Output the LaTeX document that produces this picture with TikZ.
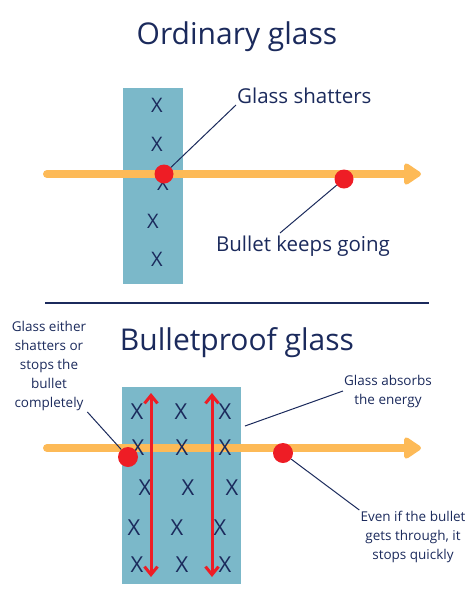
\documentclass[tikz,border=0pt]{standalone}
\usepackage{fontspec}
\setmainfont{Open Sans}
\usetikzlibrary{positioning,arrows.meta,calc}
\definecolor{navy}{HTML}{1B2A5C}
\definecolor{glassblue}{HTML}{7BB8C9}
\definecolor{bulletred}{HTML}{EE1D25}
\definecolor{flightorange}{HTML}{FDBA57}
\tikzset{
  pane/.style={fill=glassblue},
  flight/.style={-{Triangle[round,length=19pt,width=24pt]},line width=8pt,
    line cap=round,flightorange},
  bullet/.style={circle,fill=bulletred,minimum size=19pt,inner sep=0pt},
  xmark/.style={text=navy,inner sep=0pt,font=\fontsize{20}{20}\selectfont},
  bigxmark/.style={xmark,font=\fontsize{22}{22}\selectfont},
  heading/.style={text=navy,font=\fontsize{30}{30}\selectfont},
  lbl/.style={text=navy,inner sep=1pt,font=\fontsize{20.5}{20.5}\selectfont},
  smalllbl/.style={text=navy,inner sep=1pt,align=center,
    font=\fontsize{13.5}{19}\selectfont},
  leader/.style={navy,line width=1pt},
  shock/.style={{Straight Barb[length=8pt,width=13pt]}-{Straight Barb[length=8pt,width=13pt]},
    line width=3pt,bulletred},
}
\begin{document}
\begin{tikzpicture}[x=1pt,y=-1pt]
  \useasboundingbox (0,0) rectangle (474,606);
  % ---- ordinary glass ----
  \node[heading] (title1) at (237,37) {Ordinary glass};
  \fill[pane] (123,88) rectangle (183,284);
  \foreach \x/\y [count=\i] in {157/105,157/144,163/183,153/221,157/259}
    \node[xmark] (o\i) at (\x,\y) {X};
  \coordinate (start1) at (47,174);
  \coordinate (end1) at (421,174);
  \draw[flight] (start1) -- (end1);
  \node[bullet] (hit1) at (164,174) {};
  \node[bullet] (fly1) at (344,179) {};
  \node[lbl,anchor=south west] (shatter) at (236,105) {Glass shatters};
  \node[lbl] (going) at (303,246) {Bullet keeps going};
  \coordinate (goingend) at (280,233);
  \draw[leader] (hit1) -- (shatter.south west);
  \draw[leader] (fly1) -- (goingend);
  % separator
  \coordinate (sepl) at (45,303);
  \coordinate (sepr) at (429,303);
  \draw[navy,line width=1.5pt] (sepl) -- (sepr);
  % ---- bulletproof glass ----
  \node[heading] (title2) at (237,343) {Bulletproof glass};
  \fill[pane] (122,387) rectangle (241,584);
  \coordinate (start2) at (47,448);
  \coordinate (end2) at (421,448);
  \draw[flight] (start2) -- (end2);
  \foreach \x/\y [count=\i] in {137/412,181/412,225/412,
                                138/448,182/448,225/448,
                                145/488,188/488,232/488,
                                134/528,177/528,220/528,
                                137/565,182/565,225/565}
    \node[bigxmark] (b\i) at (\x,\y) {X};
  % energy spreading through the layers
  \foreach \x [count=\i] in {151,212}{
    \coordinate (top\i) at (\x,393);
    \coordinate (bot\i) at (\x,577);
    \draw[shock] (top\i) -- (bot\i);
  }
  \node[bullet,minimum size=20pt] (hit2) at (128,457) {};
  \node[bullet,minimum size=20pt] (fly2) at (283,453) {};
  \node[smalllbl] (either) at (49,366) {Glass either\\shatters or\\stops the\\bullet\\completely};
  \node[smalllbl] (absorb) at (388,391) {Glass absorbs\\the energy};
  \node[smalllbl] (evenif) at (413,537) {Even if the bullet\\gets through, it\\stops quickly};
  \coordinate (absorbend) at (245,426);
  \draw[leader] (either.south east) -- (hit2);
  \draw[leader] (absorb.west) -- (absorbend);
  \draw[leader] (fly2) -- (evenif.north west);
\end{tikzpicture}
\end{document}
